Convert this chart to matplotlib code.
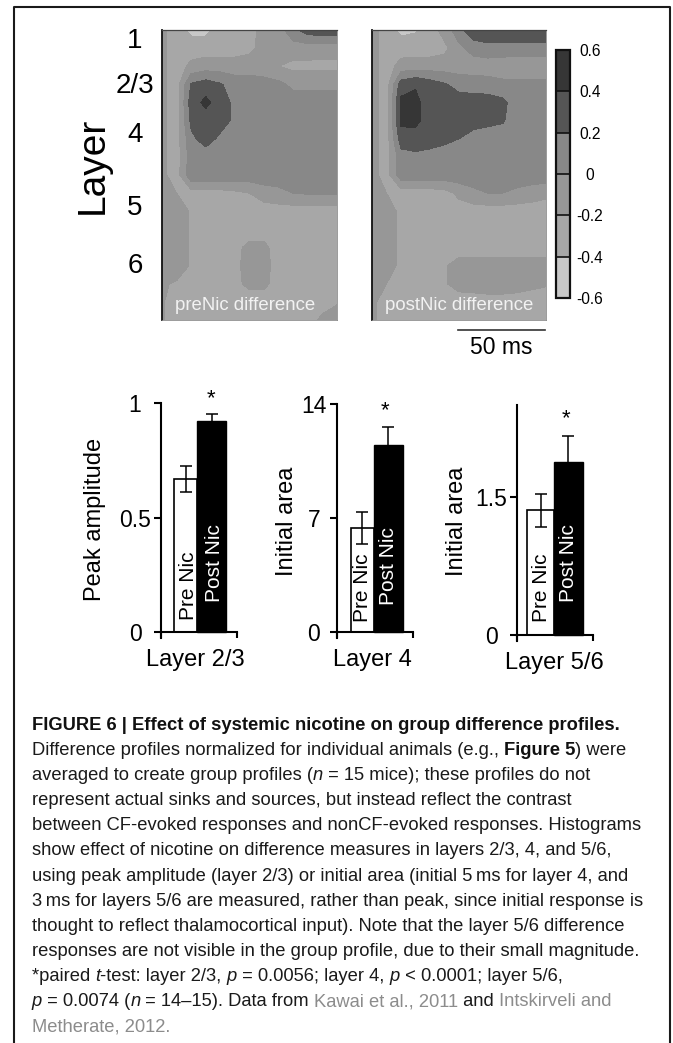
import numpy as np
import matplotlib
matplotlib.use('Agg')
import matplotlib.pyplot as plt
from matplotlib.lines import Line2D

plt.rcParams['font.family'] = ['Liberation Sans', 'DejaVu Sans']

# ---------------- data ----------------
layer_labels = ['1', '2/3', '4', '5', '6']
layer_label_y = [47.5, 92.7, 141.7, 215, 272.7]   # baseline positions (px)

cbar_levels = [-0.6, -0.4, -0.2, 0.0, 0.2, 0.4, 0.6]
cbar_labels = ['-0.6', '-0.4', '-0.2', '0', '0.2', '0.4', '0.6']
level_colors = ['#c8c8c8', '#a7a7a7', '#979797', '#888888', '#555555', '#363636']

# group difference profiles (rows: depth top->bottom, cols: time)
pre_grid = [
    [-0.15, -0.3, -0.45, -0.45, -0.3, -0.3, -0.3, -0.1, -0.1, 0.15, 0.3, 0.35, 0.35],
    [-0.15, -0.3, -0.3, -0.3, -0.3, -0.3, -0.25, -0.12, -0.1, -0.1, -0.1, -0.12, -0.12],
    [-0.15, -0.3, -0.15, -0.1, -0.1, -0.1, -0.1, -0.12, -0.2, -0.25, -0.25, -0.25, -0.25],
    [-0.15, -0.3, 0.22, 0.3, 0.22, 0.1, 0.1, 0.08, 0.05, -0.05, -0.05, -0.05, -0.05],
    [-0.15, -0.3, 0.3, 0.45, 0.3, 0.15, 0.1, 0.1, 0.1, 0.1, 0.1, 0.1, 0.1],
    [-0.15, -0.3, 0.25, 0.3, 0.3, 0.15, 0.1, 0.1, 0.1, 0.1, 0.1, 0.1, 0.1],
    [-0.15, -0.3, 0.15, 0.3, 0.15, 0.1, 0.1, 0.1, 0.1, 0.1, 0.1, 0.1, 0.1],
    [-0.15, -0.3, 0.1, 0.08, 0.1, 0.1, 0.1, 0.1, 0.1, 0.1, 0.1, 0.1, 0.1],
    [-0.15, -0.3, 0.15, 0.15, 0.15, 0.15, 0.12, 0.12, 0.1, 0.1, 0.1, 0.1, 0.1],
    [-0.18, -0.2, -0.28, -0.28, -0.28, -0.25, -0.2, -0.1, -0.05, 0.0, 0.02, 0.02, 0.02],
    [-0.18, -0.1, -0.22, -0.3, -0.3, -0.3, -0.3, -0.3, -0.3, -0.3, -0.3, -0.3, -0.3],
    [-0.18, -0.1, -0.22, -0.3, -0.3, -0.3, -0.3, -0.3, -0.3, -0.3, -0.3, -0.3, -0.3],
    [-0.18, -0.1, -0.22, -0.3, -0.3, -0.25, -0.15, -0.15, -0.3, -0.3, -0.3, -0.3, -0.3],
    [-0.18, -0.1, -0.22, -0.3, -0.3, -0.25, -0.12, -0.12, -0.3, -0.3, -0.3, -0.3, -0.3],
    [-0.18, -0.22, -0.3, -0.3, -0.3, -0.25, -0.15, -0.15, -0.3, -0.3, -0.3, -0.3, -0.3],
    [-0.18, -0.3, -0.3, -0.3, -0.3, -0.3, -0.3, -0.3, -0.3, -0.3, -0.3, -0.3, -0.22],
    [-0.18, -0.3, -0.3, -0.3, -0.3, -0.3, -0.3, -0.3, -0.3, -0.3, -0.3, -0.15, -0.1],
]
post_grid = [
    [-0.12, -0.3, -0.45, -0.42, -0.3, -0.12, 0.12, 0.35, 0.4, 0.4, 0.4, 0.4, 0.4],
    [-0.12, -0.3, -0.3, -0.3, -0.3, -0.25, -0.05, 0.08, 0.12, 0.12, 0.12, 0.12, 0.12],
    [-0.12, -0.3, -0.12, -0.1, -0.1, -0.1, -0.1, -0.1, -0.1, -0.12, -0.15, -0.15, -0.15],
    [-0.12, -0.3, 0.3, 0.38, 0.3, 0.22, 0.12, 0.1, 0.08, 0.05, 0.05, 0.05, 0.05],
    [-0.12, -0.3, 0.45, 0.45, 0.3, 0.3, 0.3, 0.3, 0.3, 0.25, 0.1, 0.1, 0.1],
    [-0.12, -0.3, 0.45, 0.45, 0.3, 0.3, 0.3, 0.28, 0.25, 0.22, 0.1, 0.1, 0.1],
    [-0.12, -0.3, 0.3, 0.32, 0.3, 0.25, 0.2, 0.12, 0.1, 0.1, 0.1, 0.1, 0.1],
    [-0.12, -0.3, 0.12, 0.15, 0.12, 0.1, 0.1, 0.1, 0.1, 0.1, 0.1, 0.1, 0.1],
    [-0.12, -0.3, 0.12, 0.12, 0.12, 0.12, 0.12, 0.12, 0.12, 0.12, 0.12, 0.12, 0.12],
    [-0.15, -0.2, -0.3, -0.3, -0.3, -0.28, -0.15, -0.05, 0.0, 0.0, -0.05, -0.1, -0.15],
    [-0.15, -0.1, -0.25, -0.3, -0.3, -0.3, -0.3, -0.3, -0.3, -0.3, -0.3, -0.3, -0.3],
    [-0.15, -0.1, -0.25, -0.3, -0.3, -0.3, -0.3, -0.3, -0.3, -0.3, -0.3, -0.3, -0.3],
    [-0.15, -0.1, -0.25, -0.3, -0.3, -0.3, -0.3, -0.3, -0.3, -0.3, -0.3, -0.3, -0.3],
    [-0.15, -0.1, -0.25, -0.3, -0.3, -0.22, -0.12, -0.12, -0.12, -0.12, -0.12, -0.12, -0.12],
    [-0.15, -0.2, -0.3, -0.3, -0.3, -0.22, -0.12, -0.12, -0.12, -0.12, -0.12, -0.15, -0.18],
    [-0.15, -0.3, -0.3, -0.3, -0.3, -0.3, -0.3, -0.28, -0.26, -0.26, -0.28, -0.3, -0.3],
    [-0.15, -0.3, -0.3, -0.3, -0.3, -0.3, -0.3, -0.3, -0.3, -0.3, -0.3, -0.3, -0.3],
]
map_titles = ['preNic difference', 'postNic difference']

bar_labels = ['Pre Nic', 'Post Nic']
l23_values = [0.668, 0.923]
l23_errors = [0.057, 0.032]
l4_values = [6.42, 11.52]
l4_errors = [0.98, 1.10]
l56_values = [1.356, 1.88]
l56_errors = [0.18, 0.28]
bar_ylabels = ['Peak amplitude', 'Initial area', 'Initial area']
bar_xlabels = ['Layer 2/3', 'Layer 4', 'Layer 5/6']
l23_ticks, l23_ticklabels = [0, 0.5, 1], ['0', '0.5', '1']
l4_ticks, l4_ticklabels = [0, 7, 14], ['0', '7', '14']
l56_ticks, l56_ticklabels = [0, 1.5], ['0', '1.5']

caption_lines = [
    [("FIGURE 6 | Effect of systemic nicotine on group difference profiles.", 'b')],
    [("Difference profiles normalized for individual animals (e.g., ", 'n'), ("Figure 5", 'b'), (") were", 'n')],
    [("averaged to create group profiles (", 'n'), ("n", 'i'), (" = 15 mice); these profiles do not", 'n')],
    [("represent actual sinks and sources, but instead reflect the contrast", 'n')],
    [("between CF-evoked responses and nonCF-evoked responses. Histograms", 'n')],
    [("show effect of nicotine on difference measures in layers 2/3, 4, and 5/6,", 'n')],
    [("using peak amplitude (layer 2/3) or initial area (initial 5\u2009ms for layer 4, and", 'n')],
    [("3\u2009ms for layers 5/6 are measured, rather than peak, since initial response is", 'n')],
    [("thought to reflect thalamocortical input). Note that the layer 5/6 difference", 'n')],
    [("responses are not visible in the group profile, due to their small magnitude.", 'n')],
    [("*paired ", 'n'), ("t", 'i'), ("-test: layer 2/3, ", 'n'), ("p", 'i'), (" = 0.0056; layer 4, ", 'n'),
     ("p", 'i'), (" < 0.0001; layer 5/6,", 'n')],
    [("p", 'i'), (" = 0.0074 (", 'n'), ("n", 'i'), (" = 14\u201315). Data from ", 'n'),
     ("Kawai et al., 2011", 'g'), (" and ", 'n'), ("Intskirveli and", 'g')],
    [("Metherate, 2012.", 'g')],
]

# ---------------- figure ----------------
W, H = 673, 1043
fig = plt.figure(figsize=(W / 100, H / 100), dpi=100)


def rect(x0, y0, x1, y1):
    return [x0 / W, 1 - y1 / H, (x1 - x0) / W, (y1 - y0) / H]


def ftext(x, y, s, **kw):
    return fig.text(x / W, 1 - y / H, s, **kw)


def fline(xs, ys, **kw):
    fig.add_artist(Line2D([x / W for x in xs], [1 - y / H for y in ys],
                          transform=fig.transFigure, **kw))


# border
fline([14, 14, 670, 670], [1043, 7, 7, 1043], color='#1a1a1a', lw=1.5)

# heatmaps
xn = np.linspace(0, 1, 13)
yn = np.linspace(0, 1, 17)
cs = None
for grid, (x0, x1), title in zip([pre_grid, post_grid], [(162, 337), (372, 546)], map_titles):
    ax = fig.add_axes(rect(x0, 30, x1, 320))
    cs = ax.contourf(xn, yn, np.array(grid), levels=cbar_levels, colors=level_colors)
    ax.set_xlim(0, 1)
    ax.set_ylim(1, 0)
    ax.set_xticks([])
    ax.set_yticks([])
    ax.spines['left'].set_color('#111111')
    ax.spines['left'].set_linewidth(1.3)
    ax.spines['top'].set_color('#444444')
    ax.spines['top'].set_linewidth(0.9)
    for s in ['right', 'bottom']:
        ax.spines[s].set_color('#8a8a8a')
        ax.spines[s].set_linewidth(0.6)
    ftext(x0 + 13, 310, title, color='#f2f2f2', fontsize=13.4, ha='left', va='baseline')

# colorbar
cax = fig.add_axes(rect(556, 50, 570, 298))
cb = fig.colorbar(cs, cax=cax, ticks=cbar_levels, drawedges=True)
cb.set_ticklabels(cbar_labels)
cb.outline.set_linewidth(1.6)
cb.outline.set_edgecolor('#111111')
cb.dividers.set_linewidth(1.2)
cb.dividers.set_color('#111111')
cax.tick_params(length=0, pad=14.4, labelsize=11.2)
for t in cax.get_yticklabels():
    t.set_ha('center')

# layer labels
ftext(92.5, 165, 'Layer', rotation=90, fontsize=28, ha='center', va='center')
for lab, yb in zip(layer_labels, layer_label_y):
    ftext(135, yb, lab, fontsize=20, ha='center', va='baseline')

# scale bar
fline([458, 545], [330, 330], color='#333333', lw=1.2)
ftext(501, 348, '50 ms', fontsize=16.5, ha='center', va='center')

# bar charts
charts = [
    dict(vals=l23_values, errs=l23_errors, ticks=l23_ticks, tlabels=l23_ticklabels, top=1.0,
         px=(160.7, 237.0), ytop=403.3, yzero=632.0, edges=(0.18, 0.48, 0.86), tpad=13.7,
         ylab=(95, 519), xlab=(195.5, 660), star=(210.7, 404.5),
         txt=((188.3, 620), (214.0, 601.7))),
    dict(vals=l4_values, errs=l4_errors, ticks=l4_ticks, tlabels=l4_ticklabels, top=14.0,
         px=(337.3, 412.7), ytop=404.3, yzero=632.3, edges=(0.177, 0.487, 0.867), tpad=12.0,
         ylab=(286.7, 521.7), xlab=(372, 660), star=(385, 416),
         txt=((363.0, 621.7), (388.3, 605.0))),
    dict(vals=l56_values, errs=l56_errors, ticks=l56_ticks, tlabels=l56_ticklabels, top=2.5,
         px=(517.3, 592.7), ytop=405.0, yzero=635.0, edges=(0.133, 0.491, 0.867), tpad=14.1,
         ylab=(457, 521.7), xlab=(554, 663), star=(566, 424.5),
         txt=((541.7, 621.7), (568.3, 601.7))),
]
ext_px = 6.0
for c, ylab, xlab in zip(charts, bar_ylabels, bar_xlabels):
    span = c['yzero'] - c['ytop']
    ext = ext_px / span * c['top']
    ax = fig.add_axes(rect(c['px'][0], c['ytop'], c['px'][1], c['yzero'] + ext_px))
    ax.set_xlim(0, 1)
    ax.set_ylim(-ext, c['top'])
    e0, e1, e2 = c['edges']
    ax.bar([e0], [c['vals'][0]], width=e1 - e0, align='edge', color='white',
           edgecolor='black', linewidth=1.2, zorder=2)
    ax.bar([e1], [c['vals'][1]], width=e2 - e1, align='edge', color='black',
           edgecolor='black', linewidth=1.0, zorder=2)
    ax.errorbar([(e0 + e1) / 2, (e1 + e2) / 2], c['vals'], yerr=c['errs'], fmt='none',
                ecolor='black', elinewidth=1.1, capsize=4, capthick=1.1, zorder=3)
    for s in ['top', 'right']:
        ax.spines[s].set_visible(False)
    ax.spines['left'].set_linewidth(1.5)
    ax.spines['bottom'].set_linewidth(1.5)
    ax.spines['bottom'].set_position(('data', 0))
    ax.set_xticks([0, 1])
    ax.set_xticklabels(['', ''])
    ax.tick_params(axis='x', direction='out', length=4.3, width=1.5)
    ax.set_yticks(c['ticks'])
    ax.set_yticklabels(c['tlabels'])
    ax.tick_params(axis='y', direction='out', length=4.8, width=1.5, pad=c['tpad'], labelsize=16.5)
    for t in ax.get_yticklabels():
        t.set_ha('center')
    ax.patch.set_alpha(0)
    ftext(c['ylab'][0], c['ylab'][1], ylab, rotation=90, fontsize=17, ha='center', va='center')
    ftext(c['xlab'][0], c['xlab'][1], xlab, fontsize=17, ha='center', va='center')
    ftext(c['star'][0], c['star'][1], '*', fontsize=16, ha='center', va='baseline')
    (pxp, pyp), (pxq, pyq) = c['txt']
    ftext(pxp, pyp, bar_labels[0], rotation=90, fontsize=15, ha='center', va='bottom', color='black')
    ftext(pxq, pyq, bar_labels[1], rotation=90, fontsize=15, ha='center', va='bottom', color='white')

# caption
fig.canvas.draw()
renderer = fig.canvas.get_renderer()
cap_size = 13.25
styles = {
    'n': dict(color='#1a1a1a'),
    'b': dict(color='#111111', fontweight='bold'),
    'i': dict(color='#1a1a1a', fontstyle='italic'),
    'g': dict(color='#8c8c8c'),
}


def text_width(s, st):
    a = fig.text(0, 0, s + 'I', fontsize=cap_size, **styles[st])
    b = fig.text(0, 0, 'I', fontsize=cap_size, **styles[st])
    w = a.get_window_extent(renderer).width - b.get_window_extent(renderer).width
    a.remove()
    b.remove()
    return w


for k, frags in enumerate(caption_lines):
    yb = 723 + 25.17 * k + 6.5
    x = 31.7
    for s, st in frags:
        ftext(x, yb, s, fontsize=cap_size, ha='left', va='baseline', **styles[st])
        x += text_width(s, st)

fig.savefig('out.png', dpi=100)
